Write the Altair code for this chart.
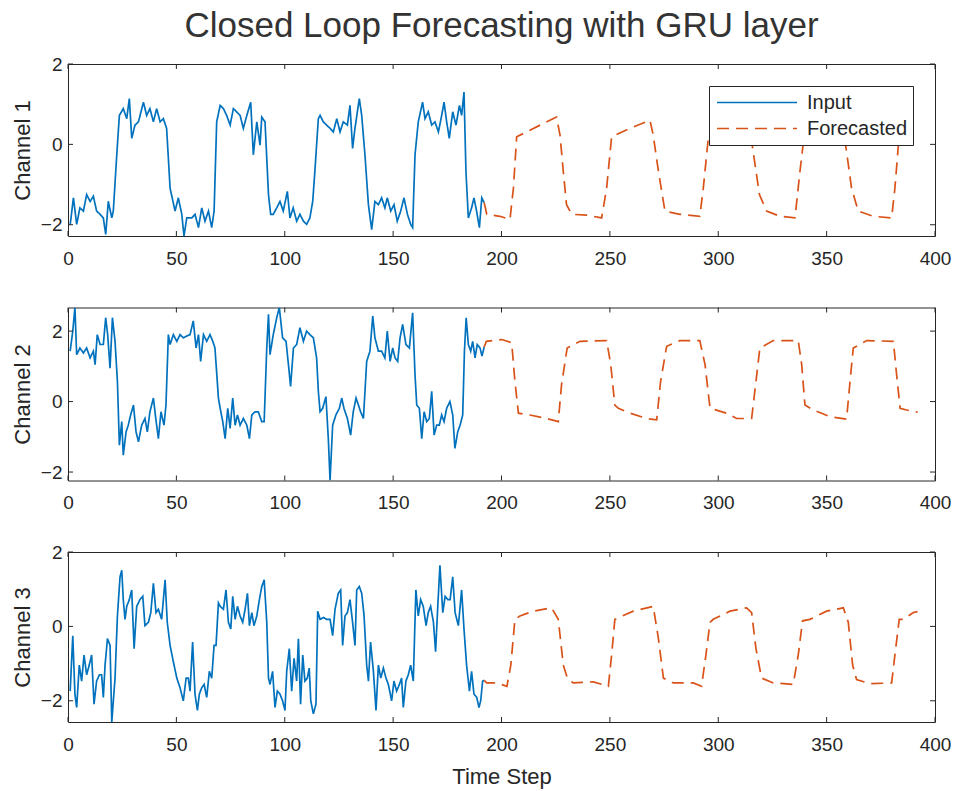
import altair as alt
import pandas as pd

# ---------------- data ----------------
# Channel 1
t_in_1 = [1, 2.5, 4.0, 5.5, 7.1, 8.6, 10.2, 11.7, 13.2, 14.8,
          16.3, 17.4, 18.6, 20.2, 20.9, 22.5, 23.7, 25.5, 27.1, 28.3,
          29.4, 30.9, 32.5, 34.8, 36.3, 37.8, 39.4, 40.9, 42.5, 44.0,
          45.5, 47.1, 49.4, 50.9, 52.5, 53.5, 54.8, 57.1, 58.6, 60.2,
          61.7, 63.2, 64.8, 66.3, 67.4, 68.6, 70.2, 71.7, 73.2, 74.8,
          76.3, 77.8, 79.4, 80.9, 82.5, 84.3, 85.5, 87.1, 88.6, 89.4,
          90.9, 92.5, 93.5, 94.7, 96.3, 97.8, 99.3, 101.2, 102.4, 103.9,
          105.5, 107.0, 108.6, 110.1, 111.6, 112.9, 113.9, 115.5, 116.3, 117.8,
          119.3, 120.9, 122.4, 124.0, 125.5, 127.0, 128.9, 130.1, 131.3, 132.4,
          134.4, 135.5, 137.0, 138.6, 140.1, 141.6, 143.2, 144.7, 146.2, 147.3,
          148.9, 150.4, 151.9, 153.5, 155.0, 156.6, 158.1, 159.0, 160.1, 161.6,
          163.6, 164.7, 166.2, 167.8, 169.3, 170.9, 172.4, 173.5, 174.7, 175.9,
          177.5, 179.0, 180.6, 181.6, 182.7, 183.6, 184.7, 186.2, 187.3, 188.5,
          189.8, 190.9, 192]
v_in_1 = [-2.0, -1.33, -1.99, -1.58, -1.66, -1.25, -1.42, -1.29, -1.66, -1.74,
          -1.83, -2.24, -1.42, -1.83, -1.66, -0.26, 0.72, 0.89, 0.64, 1.14,
          0.15, 0.48, 0.56, 1.05, 0.72, 0.89, 0.56, 0.89, 0.56, 0.64,
          0.40, -1.09, -1.66, -1.33, -1.74, -2.28, -1.83, -1.83, -1.74, -2.07,
          -1.58, -1.91, -1.66, -2.07, -1.66, 0.56, 0.97, 0.89, 0.72, 0.48,
          0.89, 0.81, 0.72, 0.40, 0.72, 1.05, -0.26, 0.56, -0.02, 0.68,
          0.56, -1.25, -1.74, -1.74, -1.58, -1.42, -1.66, -1.17, -1.83, -1.58,
          -1.91, -1.74, -1.91, -1.99, -1.83, -1.42, -0.67, 0.64, 0.72, 0.56,
          0.48, 0.40, 0.31, 0.64, 0.31, 0.56, 0.48, 0.97, -0.10, 0.40,
          1.14, 0.72, -0.26, -1.50, -2.12, -1.42, -1.50, -1.33, -1.58, -1.33,
          -1.66, -1.50, -1.91, -1.66, -1.33, -1.74, -1.99, -2.07, -0.26, 0.56,
          1.05, 0.64, 0.81, 0.48, 0.56, 0.31, 0.72, 1.05, 0.56, 0.15,
          0.81, 0.48, 0.97, 0.72, 1.30, -0.67, -1.83, -1.58, -1.33, -1.66,
          -2.07, -1.33, -1.45]
t_fc_1 = [192, 193.2, 199.3, 203.9, 205.5, 207.0, 213.1, 219.3, 225.4, 227.0,
          228.5, 230.0, 232.4, 239.3, 246.2, 248.5, 250.8, 259.3, 268.5, 270.0,
          272.4, 275.4, 282.3, 291.5, 293.1, 295.4, 300, 306, 312, 314,
          316.1, 319.0, 322.3, 328.5, 335.4, 337.7, 339.5, 345, 351, 357,
          359.2, 361.5, 364.6, 371.5, 380.0, 381.5, 383.1, 386, 392]
v_fc_1 = [-1.45, -1.74, -1.79, -1.87, -1.09, 0.19, 0.35, 0.52, 0.68, 0.23,
          -0.67, -1.50, -1.74, -1.76, -1.83, -1.09, 0.19, 0.40, 0.60, 0.23,
          -0.67, -1.66, -1.74, -1.79, -1.09, 0.15, 0.30, 0.45, 0.60, 0.62,
          -0.18, -1.25, -1.66, -1.79, -1.83, -0.67, 0.15, 0.30, 0.45, 0.60,
          -0.18, -1.09, -1.66, -1.79, -1.83, -1.09, -0.02, 0.20, 0.45]

# Channel 2
t_in_2 = [1, 2.2, 3.2, 4.0, 5.5, 7.1, 8.6, 10.2, 11.7, 12.5,
          13.5, 14.8, 16.3, 17.4, 18.3, 19.4, 20.5, 21.7, 22.8, 23.7,
          24.8, 25.5, 26.8, 27.8, 28.9, 30.2, 31.4, 32.5, 34.0, 35.5,
          36.6, 37.8, 39.4, 40.5, 41.7, 42.9, 44.3, 45.2, 46.3, 47.1,
          48.6, 50.2, 51.7, 53.2, 54.8, 56.3, 57.8, 59.1, 60.2, 61.2,
          62.5, 64.0, 65.5, 66.8, 67.8, 69.4, 70.2, 71.4, 72.5, 73.7,
          74.8, 76.0, 77.1, 78.2, 79.4, 80.9, 82.5, 83.7, 84.8, 86.3,
          87.8, 89.4, 90.5, 91.7, 92.5, 93.2, 94.7, 96.3, 97.5, 99.0,
          100.6, 101.7, 102.7, 104.0, 105.5, 107.0, 108.6, 110.1, 111.6, 113.2,
          114.7, 115.5, 116.3, 117.5, 119.0, 120.1, 120.9, 122.1, 123.6, 125.2,
          126.3, 127.3, 128.9, 130.4, 131.6, 132.9, 134.0, 135.0, 136.3, 137.8,
          139.3, 140.6, 141.6, 143.2, 144.7, 146.2, 147.3, 148.6, 149.8, 150.9,
          152.1, 153.2, 154.4, 155.9, 157.5, 159.0, 160.1, 160.9, 162.1, 163.2,
          164.3, 165.5, 166.7, 167.8, 168.9, 170.1, 171.3, 172.4, 173.5, 174.7,
          176.2, 177.5, 178.5, 179.8, 180.9, 182.1, 182.9, 183.7, 184.7, 185.8,
          186.7, 187.8, 188.8, 190.1, 191.0, 192]
v_in_2 = [1.43, 2.0, 2.67, 1.33, 1.52, 1.38, 1.52, 1.24, 1.43, 1.05,
          1.90, 1.62, 1.62, 2.38, 1.90, 0.95, 2.38, 1.71, 0.57, -1.24,
          -0.57, -1.52, -0.86, -0.67, -0.38, -0.10, -0.86, -1.14, -0.67, -0.48,
          -0.86, -0.29, 0.10, -0.48, -1.05, -0.29, -0.67, -0.10, 1.90, 1.62,
          1.90, 1.71, 1.90, 1.81, 1.86, 1.90, 2.29, 1.52, 1.90, 1.14,
          1.90, 1.71, 1.90, 1.71, 1.52, 0.10, -0.19, -0.57, -1.05, -0.19,
          -0.76, 0.10, -0.67, -0.38, -0.67, -0.48, -0.67, -1.05, -0.38, -0.29,
          -0.29, -0.57, -0.57, 1.52, 2.48, 1.33, 1.90, 2.38, 2.67, 1.81,
          1.71, 1.05, 0.43, 1.52, 1.62, 2.10, 1.71, 2.00, 1.90, 1.81,
          1.24, 0.29, -0.29, -0.19, 0.14, -1.05, -2.24, -0.67, -0.38, -0.19,
          0.10, -0.19, -0.48, -0.95, -0.29, 0.10, -0.10, -0.29, -0.48, 1.14,
          1.43, 2.43, 1.81, 1.43, 1.43, 1.24, 2.00, 1.14, 1.52, 1.24,
          1.14, 1.81, 2.19, 1.62, 1.52, 2.52, 0.76, -0.10, -0.19, -1.05,
          -0.29, -0.57, -0.48, 0.29, -0.95, -0.67, -0.67, -0.38, -0.57, -0.19,
          0.00, -0.38, -1.33, -0.86, -0.67, -0.38, 1.43, 2.38, 1.62, 1.43,
          1.71, 1.24, 1.62, 1.52, 1.29, 1.55]
t_fc_2 = [192, 193, 200.1, 204.7, 206.2, 207.8, 213.1, 220.8, 226.2, 227.7,
          230.3, 236.2, 248.5, 250.4, 252.3, 253.9, 259.3, 267.0, 271.6, 273.4,
          276.2, 282.3, 291.5, 293.9, 296.2, 303.9, 308.5, 315.4, 317.4, 319.2,
          325.4, 336.9, 338.5, 340.0, 343.9, 351.6, 359.2, 360.8, 362.3, 368.5,
          380.8, 382.3, 383.9, 386.9, 392]
v_fc_2 = [1.55, 1.71, 1.76, 1.67, 0.57, -0.33, -0.38, -0.48, -0.57, 0.48,
          1.52, 1.71, 1.73, 1.05, -0.10, -0.19, -0.33, -0.48, -0.52, 0.57,
          1.57, 1.73, 1.73, 1.05, -0.19, -0.33, -0.48, -0.48, 0.57, 1.52,
          1.73, 1.73, 1.05, -0.10, -0.24, -0.43, -0.50, 0.57, 1.52, 1.73,
          1.71, 0.76, -0.19, -0.24, -0.30]

# Channel 3
t_in_3 = [1, 2.2, 3.2, 4.0, 5.2, 6.3, 7.4, 8.6, 9.8, 10.9,
          12.0, 13.2, 14.5, 15.5, 16.3, 17.1, 18.2, 19.4, 20.2, 21.7,
          22.8, 24.0, 24.8, 25.5, 26.3, 27.1, 28.3, 29.4, 30.5, 31.7,
          33.2, 34.5, 35.5, 37.1, 38.2, 39.4, 40.6, 41.7, 43.2, 44.8,
          45.8, 47.1, 48.6, 50.2, 51.7, 53.2, 54.5, 55.5, 56.3, 57.5,
          58.6, 59.7, 60.6, 61.7, 62.8, 64.0, 65.2, 66.3, 67.4, 68.3,
          69.4, 70.2, 71.7, 72.9, 74.0, 75.1, 76.0, 77.1, 78.2, 79.4,
          80.6, 81.7, 82.8, 83.7, 84.8, 85.8, 87.1, 88.3, 89.4, 90.5,
          91.7, 92.5, 93.2, 94.4, 95.5, 96.6, 97.8, 99.0, 100.1, 100.9,
          102.1, 103.2, 104.3, 105.5, 106.3, 107.3, 108.3, 109.3, 110.4, 111.3,
          112.0, 113.2, 114.4, 115.2, 116.3, 117.8, 119.3, 120.9, 122.1, 123.2,
          124.7, 125.8, 126.7, 127.8, 128.9, 130.1, 131.3, 132.4, 133.2, 134.4,
          135.5, 136.6, 137.8, 138.6, 139.6, 140.9, 142.1, 143.2, 144.3, 145.5,
          146.7, 147.8, 149.3, 150.4, 151.6, 152.9, 153.9, 154.7, 155.9, 157.0,
          158.1, 159.3, 160.5, 161.6, 162.7, 163.9, 165.2, 166.2, 167.3, 168.6,
          169.6, 170.6, 171.6, 172.9, 174.0, 175.2, 176.3, 177.5, 178.6, 180.1,
          181.6, 182.7, 183.9, 185.2, 186.2, 187.3, 188.6, 189.6, 190.4, 191.3,
          192]
v_in_3 = [-1.74, -0.25, -1.82, -2.18, -1.04, -1.47, -0.77, -1.30, -1.04, -0.77,
          -2.09, -1.47, -1.30, -1.30, -1.91, -1.04, -0.33, -0.51, -2.57, -1.39,
          0.28, 1.33, 1.51, 0.72, 0.19, 0.54, 0.72, 0.98, -0.60, 0.54,
          0.72, 0.81, 0.02, 0.11, 0.37, 1.16, 0.37, 0.46, 0.19, 1.25,
          0.11, -0.51, -0.95, -1.39, -1.65, -2.00, -1.39, -1.39, -1.74, -0.42,
          -1.82, -2.26, -1.82, -1.65, -1.56, -1.91, -1.21, -1.39, -0.51, -0.51,
          0.63, 0.54, 0.46, 0.98, 0.11, -0.07, 0.81, 0.19, 0.54, 0.28,
          0.11, 0.46, 0.89, 0.02, 0.37, 0.02, 0.28, 0.72, 1.07, 1.25,
          0.11, -1.39, -1.56, -1.21, -2.18, -1.74, -1.82, -2.00, -2.26, -1.21,
          -0.60, -1.74, -0.86, -1.47, -0.33, -2.09, -0.77, -1.47, -1.39, -1.12,
          -2.00, -2.35, -2.09, 0.41, 0.19, 0.24, 0.19, 0.19, -0.25, 0.46,
          0.89, 0.98, -0.51, 0.28, 0.37, 0.72, 0.11, -0.51, 0.98, 1.07,
          0.89, 0.28, -1.04, -1.47, -0.42, -1.21, -2.26, -1.04, -1.39, -1.12,
          -1.39, -1.56, -2.00, -1.47, -1.74, -1.56, -1.39, -2.18, -1.47, -1.30,
          -1.04, -1.47, 0.98, 0.28, 0.72, 0.54, 0.02, 0.37, 0.54, 0.11,
          -0.68, 0.54, 1.64, 0.37, 0.81, 0.72, 0.72, 1.33, 0.37, 0.02,
          0.98, -0.07, -1.04, -1.74, -1.21, -1.82, -1.91, -2.18, -2.00, -1.47,
          -1.45]
t_fc_3 = [192, 193.2, 197.8, 202.5, 204.3, 206.2, 208.5, 214.7, 223.1, 226.2,
          228.5, 230.4, 233.1, 242.4, 249.3, 250.8, 252.3, 260.8, 270.0, 272.4,
          274.7, 279.3, 288.5, 292.3, 294.3, 296.2, 297.7, 305.4, 313.1, 315.4,
          317.4, 320.0, 325.4, 334.6, 336.9, 338.9, 342.3, 350.0, 357.7, 360.0,
          362.0, 363.8, 370.0, 380.0, 381.5, 383.5, 385.4, 390.0, 392]
v_fc_3 = [-1.45, -1.52, -1.52, -1.61, -1.04, 0.19, 0.28, 0.41, 0.50, 0.19,
          -1.04, -1.39, -1.52, -1.49, -1.61, -0.77, 0.19, 0.41, 0.54, -0.33,
          -1.39, -1.52, -1.52, -1.61, -0.77, 0.11, 0.19, 0.41, 0.50, 0.37,
          -0.60, -1.39, -1.52, -1.56, -0.77, 0.15, 0.19, 0.41, 0.50, 0.11,
          -1.04, -1.43, -1.54, -1.52, -0.77, 0.19, 0.19, 0.37, 0.40]

channel_names = ["Channel 1", "Channel 2", "Channel 3"]
series_names = ["Input", "Forecasted"]
x_ticks = [0, 50, 100, 150, 200, 250, 300, 350, 400]
y_ticks = [-2, 0, 2]
y_domains = [[-2.28, 2.0], [-2.24, 2.67], [-2.57, 2.0]]
title_text = "Closed Loop Forecasting with GRU layer"

# ---------------- styling ----------------
FONT = "Liberation Sans"
INK = "#262626"
BLUE = "#0072BD"
ORANGE = "#D95319"
W = 867
HEIGHTS = [172, 173, 170]
TICK = 5


def panel(i, t_in, v_in, t_fc, v_fc, with_legend, with_xtitle):
    h = HEIGHTS[i]
    df = pd.DataFrame({
        "t": list(t_in) + list(t_fc),
        "v": list(v_in) + list(v_fc),
        "series": [series_names[0]] * len(t_in) + [series_names[1]] * len(t_fc),
    })
    xaxis = alt.Axis(values=x_ticks, ticks=False, domain=False, grid=False,
                     labelFontSize=19, labelFont=FONT, labelColor=INK,
                     labelPadding=13, labelFlush=False, labelOverlap=False,
                     titleFontSize=22, titleFont=FONT, titleColor=INK,
                     titleFontWeight="normal", titlePadding=12)
    yaxis = alt.Axis(values=y_ticks, ticks=False, domain=False, grid=False,
                     labelFontSize=19, labelFont=FONT, labelColor=INK,
                     labelPadding=6, labelFlush=False, labelOverlap=False,
                     titleFontSize=22, titleFont=FONT, titleColor=INK,
                     titleFontWeight="normal", titlePadding=6)
    xscale = alt.Scale(domain=[0, 400], nice=False, zero=False)
    yscale = alt.Scale(domain=y_domains[i], nice=False, zero=False)
    if with_xtitle:
        xenc = alt.X("t:Q", scale=xscale, axis=xaxis, title="Time Step")
    else:
        xenc = alt.X("t:Q", scale=xscale, axis=xaxis, title=None)
    yenc = alt.Y("v:Q", scale=yscale, axis=yaxis, title=channel_names[i])

    cscale = alt.Scale(domain=series_names, range=[BLUE, ORANGE])
    dscale = alt.Scale(domain=series_names, range=[[1, 0], [12, 7]])
    if with_legend:
        leg = alt.Legend(title=None, orient="none", legendX=641, legendY=22,
                         direction="vertical", symbolType="stroke",
                         symbolSize=6400, symbolStrokeWidth=1.7,
                         clipHeight=23, rowPadding=3, padding=5,
                         symbolOffset=2, labelOffset=9,
                         labelFontSize=20, labelFont=FONT, labelColor=INK,
                         fillColor="white", strokeColor=INK, cornerRadius=0)
        color = alt.Color("series:N", scale=cscale, legend=leg, sort=series_names)
        dash = alt.StrokeDash("series:N", scale=dscale, legend=leg, sort=series_names)
    else:
        color = alt.Color("series:N", scale=cscale, legend=None, sort=series_names)
        dash = alt.StrokeDash("series:N", scale=dscale, legend=None, sort=series_names)

    lines = alt.Chart(df).mark_line(strokeWidth=1.7, clip=True).encode(
        x=xenc, y=yenc, color=color, strokeDash=dash)

    xt = pd.DataFrame({"t": x_ticks})
    yt = pd.DataFrame({"v": y_ticks})
    tb = alt.Chart(xt).mark_rule(color=INK, strokeWidth=1).encode(
        x=xenc, y=alt.value(h), y2=alt.value(h - TICK))
    tt = alt.Chart(xt).mark_rule(color=INK, strokeWidth=1).encode(
        x=xenc, y=alt.value(0), y2=alt.value(TICK))
    tl = alt.Chart(yt).mark_rule(color=INK, strokeWidth=1).encode(
        y=yenc, x=alt.value(0), x2=alt.value(TICK))
    tr = alt.Chart(yt).mark_rule(color=INK, strokeWidth=1).encode(
        y=yenc, x=alt.value(W), x2=alt.value(W - TICK))

    return alt.layer(lines, tb, tt, tl, tr).properties(width=W, height=h)


p1 = panel(0, t_in_1, v_in_1, t_fc_1, v_fc_1, True, False)
p2 = panel(1, t_in_2, v_in_2, t_fc_2, v_fc_2, False, False)
p3 = panel(2, t_in_3, v_in_3, t_fc_3, v_fc_3, False, True)

chart = alt.vconcat(p1, p2, p3, spacing=71.5, bounds="flush").resolve_legend(
    color="independent", strokeDash="independent"
).properties(
    title=alt.TitleParams(text=title_text, fontSize=35, font=FONT,
                          fontWeight="normal", color="#333333", anchor="middle",
                          frame="group", offset=11)
).configure(
    font=FONT, padding={"left": 10, "top": 8, "right": 5, "bottom": 5}
).configure_view(stroke=INK, strokeWidth=1)

chart.save("out.html", embed_options={"renderer": "svg", "actions": False})
